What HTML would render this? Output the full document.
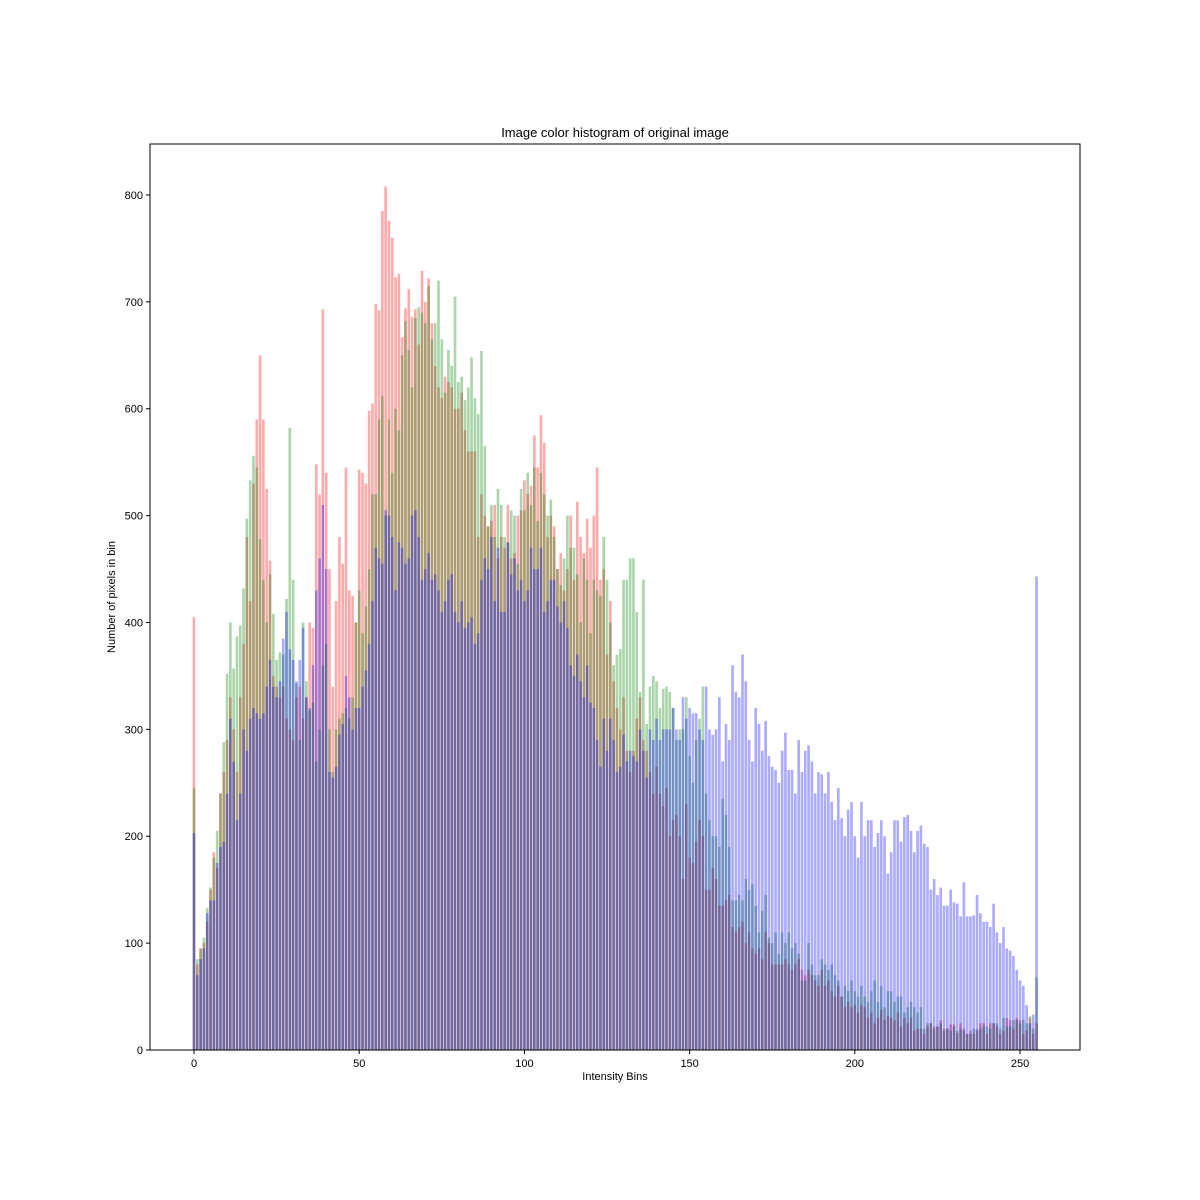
<!DOCTYPE html>
<html><head><meta charset="utf-8"><style>
html,body{margin:0;padding:0;background:#fff;}
svg{display:block;font-family:"Liberation Sans","DejaVu Sans",sans-serif;}
</style></head><body>
<svg id="chart" width="1200" height="1200" viewBox="0 0 1200 1200" xmlns="http://www.w3.org/2000/svg">
<rect x="0" y="0" width="1200" height="1200" fill="#fff"/>
<text x="615" y="137" text-anchor="middle" font-size="13">Image color histogram of original image</text>
<g id="bars"></g>
<g id="axes"></g>
<text x="615" y="1080" text-anchor="middle" font-size="11">Intensity Bins</text>
<text x="0" y="0" transform="translate(115,597) rotate(-90)" text-anchor="middle" font-size="11">Number of pixels in bin</text>
</svg>
<script>
const redValues=[405,80,95,100,120,150,185,170,240,260,290,330,300,260,330,380,480,420,530,590,650,590,525,458,350,340,330,340,310,300,290,330,340,310,330,400,395,548,520,693,540,450,340,420,480,455,545,430,425,400,543,540,530,598,605,698,692,785,808,776,760,723,726,667,694,712,686,693,660,729,700,722,680,640,620,610,630,625,620,600,600,615,580,560,560,560,480,520,500,490,495,510,460,480,470,510,460,465,500,505,533,520,528,575,545,594,568,480,500,490,450,465,430,450,500,440,513,480,465,497,470,500,545,440,450,370,420,345,320,300,330,280,260,280,310,330,290,280,260,240,265,240,228,245,200,215,220,200,160,230,180,175,195,215,200,150,150,170,160,135,135,140,145,115,110,115,120,100,110,95,90,95,85,110,100,80,80,80,80,85,80,75,80,85,75,70,75,70,65,60,75,60,65,55,50,60,50,40,45,40,42,35,42,40,30,35,25,30,38,28,32,30,28,35,22,30,25,30,18,20,20,15,22,25,22,22,28,20,20,24,24,16,25,20,15,18,15,20,25,25,15,25,25,22,15,18,30,28,20,30,28,15,18,30,15,25];
const greenValues=[245,85,95,105,133,152,180,205,240,288,352,400,357,387,397,432,497,533,556,545,478,440,400,445,408,365,372,370,422,582,440,343,290,400,345,318,325,270,300,360,380,300,260,300,310,315,320,310,330,400,430,390,415,450,520,520,590,612,500,590,540,600,580,650,682,655,620,685,695,690,680,715,665,680,720,665,615,655,640,705,625,630,608,620,648,610,595,654,565,490,510,480,525,510,480,475,505,500,455,525,505,540,510,545,495,540,520,500,515,480,450,435,460,500,470,470,445,400,460,440,390,440,430,425,480,440,400,360,370,375,440,440,460,460,410,335,440,305,340,350,345,320,338,340,335,320,290,300,300,330,275,250,290,310,340,240,215,200,200,190,235,220,190,140,140,145,140,160,150,155,135,110,130,145,105,100,110,90,110,100,110,95,100,90,65,65,100,80,70,70,85,80,75,80,70,65,50,60,55,65,55,50,60,50,45,55,65,45,60,40,55,55,45,50,50,35,40,45,40,35,40,20,25,25,20,22,25,18,20,18,22,18,20,18,15,15,20,18,20,22,22,20,25,25,20,30,22,22,28,28,25,28,25,32,20,68];
const blueValues=[203,70,85,95,128,140,140,175,190,195,240,310,270,215,240,300,280,310,320,315,310,315,340,365,340,330,345,385,410,375,365,345,365,395,330,320,360,430,460,510,450,260,255,265,295,305,350,330,300,320,320,340,355,380,420,470,460,455,505,500,480,430,475,470,455,460,500,505,480,440,450,465,440,445,430,410,420,440,445,410,400,420,395,400,405,380,390,440,460,450,480,420,470,410,410,475,445,460,430,440,420,430,470,450,450,470,410,420,440,440,415,400,420,395,360,350,370,345,330,360,325,320,290,265,310,280,310,290,260,265,295,270,280,275,270,300,280,255,300,290,310,290,300,300,300,320,300,290,330,310,320,315,315,300,290,340,300,295,300,330,270,305,290,360,335,330,370,345,290,270,320,305,280,308,275,265,262,250,280,297,262,262,240,290,260,280,285,270,240,260,258,240,260,232,215,245,217,200,225,232,200,180,232,200,215,215,190,203,215,200,165,185,215,215,195,218,220,205,185,205,210,193,190,150,160,145,152,135,135,150,138,137,125,157,125,125,126,145,128,120,120,115,137,110,100,115,95,93,88,75,65,60,42,25,33,443];
const xTicks=[0,50,100,150,200,250];
const yTicks=[0,100,200,300,400,500,600,700,800];

const X0=150,X1=1080,Y0=144,Y1=1050;
const xMin=-13.32,xMax=268.15,yMin=0,yMax=847.7;
function xs(v){return X0+(v-xMin)/(xMax-xMin)*(X1-X0);}
function ys(v){return Y1-(v-yMin)/(yMax-yMin)*(Y1-Y0);}
const NS="http://www.w3.org/2000/svg";
const barsG=document.getElementById('bars');
const series=[[redValues,'red','bar-red'],[greenValues,'green','bar-green'],[blueValues,'blue','bar-blue']];
series.forEach(s=>{
  const g=document.createElementNS(NS,'g');
  
  
  g.setAttribute('fill',s[1]);
  g.setAttribute('fill-opacity','0.33');
  s[0].forEach((v,i)=>{
    const r=document.createElementNS(NS,'rect');
    const xl=xs(i-0.4),xr=xs(i+0.4);
    r.setAttribute('x',xl.toFixed(2));
    r.setAttribute('width',(xr-xl).toFixed(2));
    r.setAttribute('y',ys(v).toFixed(2));
    r.setAttribute('height',(ys(0)-ys(v)).toFixed(2));
    
    
    g.appendChild(r);
  });
  barsG.appendChild(g);
});
const ax=document.getElementById('axes');
const frame=document.createElementNS(NS,'rect');
frame.setAttribute('x',X0);frame.setAttribute('y',Y0);
frame.setAttribute('width',X1-X0);frame.setAttribute('height',Y1-Y0);
frame.setAttribute('fill','none');frame.setAttribute('stroke','#000');frame.setAttribute('stroke-width','1');


ax.appendChild(frame);
xTicks.forEach(t=>{
  const x=xs(t);
  const l=document.createElementNS(NS,'line');
  l.setAttribute('x1',x);l.setAttribute('x2',x);l.setAttribute('y1',Y1);l.setAttribute('y2',Y1+4);
  l.setAttribute('stroke','#000');
  
  
  ax.appendChild(l);
  const tx=document.createElementNS(NS,'text');
  tx.setAttribute('x',x);tx.setAttribute('y',Y1+17);tx.setAttribute('text-anchor','middle');tx.setAttribute('font-size','11');
  tx.textContent=t;
  
  
  ax.appendChild(tx);
});
yTicks.forEach(t=>{
  const y=ys(t);
  const l=document.createElementNS(NS,'line');
  l.setAttribute('x1',X0-4);l.setAttribute('x2',X0);l.setAttribute('y1',y);l.setAttribute('y2',y);
  l.setAttribute('stroke','#000');
  
  
  ax.appendChild(l);
  const tx=document.createElementNS(NS,'text');
  tx.setAttribute('x',X0-7);tx.setAttribute('y',y+4);tx.setAttribute('text-anchor','end');tx.setAttribute('font-size','11');
  tx.textContent=t;
  
  
  ax.appendChild(tx);
});
</script>
</body></html>
